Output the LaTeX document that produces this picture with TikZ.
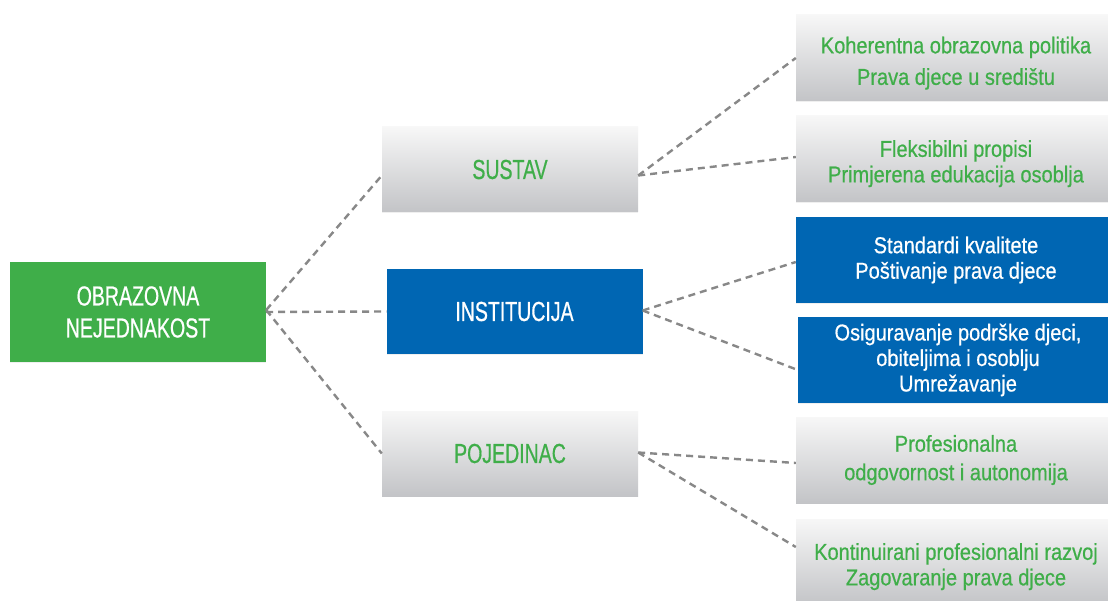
\documentclass[tikz,border=0pt]{standalone}
\usepackage{fontspec}
\setmainfont{Liberation Sans}
\newfontfamily\mainf[FakeStretch=0.71,FakeBold=0.6]{Liberation Sans}
\newfontfamily\subf[FakeStretch=0.87,FakeBold=0.6]{Liberation Sans}
\usetikzlibrary{shadows}
\definecolor{cgreen}{HTML}{3FAE49}
\definecolor{cblue}{HTML}{0066B3}
\definecolor{gtop}{HTML}{F7F7F7}
\definecolor{gbot}{HTML}{C3C4C7}
\definecolor{dashc}{HTML}{888888}
\newcommand{\lowstrut}[1]{\rule{0pt}{#1}}
\tikzset{
  basebox/.style={inner sep=0pt, align=center, drop shadow={opacity=0.12, shadow xshift=0pt, shadow yshift=-1pt}},
  graybox/.style={basebox, top color=gtop, bottom color=gbot, text=cgreen},
  bluebox/.style={basebox, fill=cblue, text=white},
  mainbox/.style={minimum width=256pt, minimum height=85pt, font=\mainf\fontsize{27.5}{32}\selectfont},
  subbox/.style={minimum width=320pt, minimum height=86pt, font=\subf\fontsize{23}{25.5}\selectfont},
  conn/.style={draw=dashc, line width=2.4pt, dash pattern=on 7pt off 5pt}
}
\begin{document}
\begin{tikzpicture}[x=1pt,y=-1pt]
\useasboundingbox (0,0) rectangle (1108,601);
\clip (0,0) rectangle (1108,601);
\fill[white] (0,0) rectangle (1108,601);
% root
\node[basebox, fill=cgreen, text=white, minimum width=256pt, minimum height=100pt, font=\mainf\fontsize{27.5}{32}\selectfont] (root) at (138,312) {OBRAZOVNA\\NEJEDNAKOST};
% middle
\node[graybox, mainbox] (sus) at (510,169.5) {SUSTAV};
\node[bluebox, mainbox] (ins) at (514.5,311.5) {INSTITUCIJA};
\node[graybox, mainbox] (poj) at (510,453.5) {POJEDINAC};
% right
\node[graybox, subbox] (b1) at (956,58) {\lowstrut{27pt}Koherentna obrazovna politika\\[6pt]Prava djece u središtu};
\node[graybox, subbox] (b2) at (956,159) {\lowstrut{26pt}Fleksibilni propisi\\Primjerena edukacija osoblja};
\node[bluebox, subbox] (b3) at (956,260) {Standardi kvalitete\\Poštivanje prava djece};
\node[bluebox, subbox] (b4) at (958,360) {Osiguravanje podrške djeci,\\obiteljima i osoblju\\Umrežavanje};
\node[graybox, subbox] (b5) at (956,460) {Profesionalna\\[3pt]odgovornost i autonomija};
\node[graybox, subbox] (b6) at (956,562) {\lowstrut{26pt}Kontinuirani profesionalni razvoj\\Zagovaranje prava djece};
% connectors
\draw[conn] ([yshift=2pt]root.east) -- ([yshift=-6pt]sus.west);
\draw[conn] (root.east) -- (ins.west);
\draw[conn] ([yshift=2pt]root.east) -- (poj.west);
\draw[conn] ([yshift=-6pt]sus.east) -- (b1.west);
\draw[conn] ([yshift=-6pt]sus.east) -- ([yshift=2pt]b2.west);
\draw[conn] ([yshift=1pt]ins.east) -- ([yshift=-2pt]b3.west);
\draw[conn] ([yshift=1pt]ins.east) -- ([yshift=-10pt]b4.west);
\draw[conn] ([yshift=1pt]poj.east) -- ([yshift=-3pt]b5.west);
\draw[conn] ([yshift=1pt]poj.east) -- ([yshift=15pt]b6.west);
\end{tikzpicture}
\end{document}
